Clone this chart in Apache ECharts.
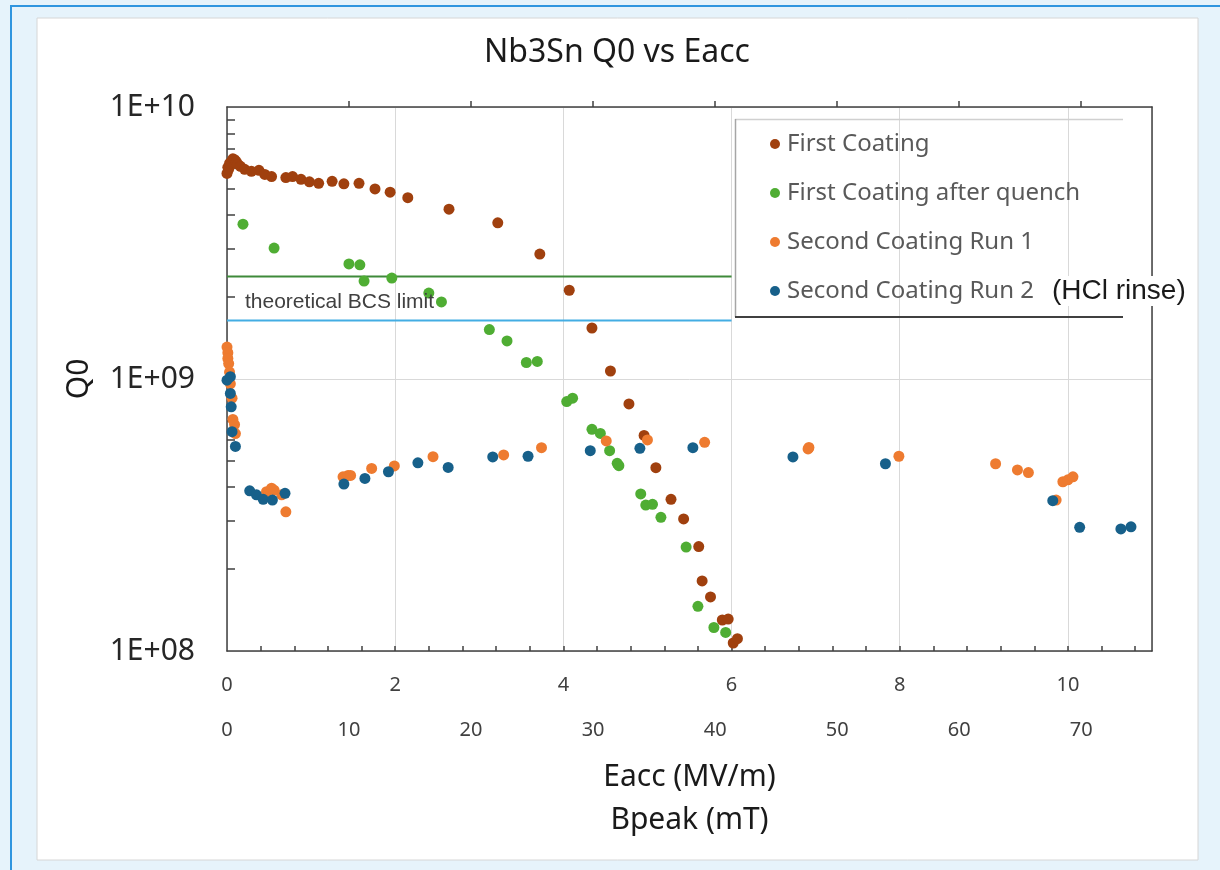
<!DOCTYPE html>
<html>
<head>
<meta charset="utf-8">
<script src="https://cdn.jsdelivr.net/npm/echarts@6/dist/echarts.min.js"></script>
<style>
html,body{margin:0;padding:0;background:#e6f3fb;}
#chart{width:1220px;height:870px;}
</style>
</head>
<body>
<div id="chart"></div>
<script>
// ---- data (Eacc in MV/m, Q0) ----
const firstCoating = [
  [0.00,5.7e9],[0.01,6.0e9],[0.02,5.9e9],[0.03,6.2e9],[0.05,6.3e9],[0.07,6.45e9],[0.09,6.4e9],
  [0.11,6.3e9],[0.13,6.15e9],[0.16,6.05e9],[0.21,5.9e9],[0.29,5.8e9],[0.38,5.85e9],[0.45,5.65e9],
  [0.53,5.55e9],[0.70,5.5e9],[0.78,5.55e9],[0.88,5.42e9],[0.98,5.31e9],[1.09,5.24e9],[1.25,5.33e9],
  [1.39,5.22e9],[1.57,5.24e9],[1.76,5.0e9],[1.94,4.86e9],[2.15,4.64e9],[2.64,4.21e9],[3.22,3.75e9],
  [3.72,2.88e9],[4.07,2.12e9],[4.34,1.54e9],[4.56,1.07e9],[4.78,8.1e8],[4.96,6.2e8],[5.10,4.72e8],
  [5.28,3.61e8],[5.43,3.06e8],[5.61,2.42e8],[5.65,1.81e8],[5.75,1.58e8],[5.89,1.30e8],[5.96,1.31e8],
  [6.02,1.07e8],[6.07,1.11e8]
];
const firstCoatingAfterQuench = [
  [0.19,3.71e9],[0.56,3.03e9],[1.45,2.65e9],[1.58,2.63e9],[1.63,2.29e9],[1.96,2.35e9],[2.40,2.07e9],
  [2.55,1.92e9],[3.12,1.52e9],[3.33,1.38e9],[3.56,1.15e9],[3.69,1.16e9],[4.04,8.26e8],[4.11,8.5e8],
  [4.34,6.53e8],[4.44,6.31e8],[4.55,5.45e8],[4.64,4.9e8],[4.66,4.8e8],[4.92,3.78e8],[4.98,3.44e8],
  [5.06,3.46e8],[5.16,3.10e8],[5.46,2.41e8],[5.60,1.46e8],[5.79,1.22e8],[5.93,1.17e8]
];
const secondCoatingRun1 = [
  [0.00,1.31e9],[0.01,1.25e9],[0.01,1.19e9],[0.02,1.14e9],[0.03,1.06e9],[0.04,9.6e8],[0.06,8.5e8],
  [0.07,7.1e8],[0.09,6.8e8],[0.10,6.3e8],[0.47,3.85e8],[0.53,3.97e8],[0.56,3.9e8],[0.65,3.75e8],
  [0.70,3.25e8],[1.38,4.37e8],[1.44,4.42e8],[1.47,4.42e8],[1.72,4.69e8],[1.99,4.79e8],[2.45,5.18e8],
  [3.29,5.26e8],[3.74,5.59e8],[4.51,5.92e8],[5.00,5.97e8],[5.68,5.85e8],[6.91,5.53e8],[6.92,5.6e8],
  [7.99,5.2e8],[9.14,4.88e8],[9.40,4.63e8],[9.53,4.53e8],[9.86,3.59e8],[9.94,4.19e8],[10.00,4.26e8],
  [10.06,4.37e8]
];
const secondCoatingRun2 = [
  [0.00,9.9e8],[0.04,1.02e9],[0.04,8.85e8],[0.05,7.9e8],[0.06,6.4e8],[0.10,5.65e8],[0.27,3.88e8],
  [0.35,3.75e8],[0.43,3.61e8],[0.54,3.59e8],[0.69,3.8e8],[1.39,4.11e8],[1.64,4.31e8],[1.92,4.56e8],
  [2.27,4.92e8],[2.63,4.73e8],[3.16,5.17e8],[3.58,5.2e8],[4.32,5.45e8],[4.91,5.56e8],[5.54,5.59e8],
  [6.73,5.17e8],[7.83,4.88e8],[9.82,3.57e8],[10.14,2.85e8],[10.63,2.81e8],[10.75,2.86e8]
];
// theoretical BCS limit lines
const bcsLineE = [0, 6];
const bcsLimitGreen = 2.38e9;
const bcsLimitBlue = 1.64e9;
// axis ranges and ticks
const eaccMax = 11;
const bpeakMax = 75.8;
const eaccMinorTicks = [0.4,0.8,1.2,1.6,2,2.4,2.8,3.2,3.6,4,4.4,4.8,5.2,5.6,6,6.4,6.8,7.2,7.6,8,8.4,8.8,9.2,9.6,10,10.4,10.8];
const bpeakTopTicks = [10,20,30,40,50,60,70];
const qMinorMultipliers = [2,3,4,5,6,7,8,9];
const qDecades = [8, 9];
const seriesNames = ['First Coating','First Coating after quench','Second Coating Run 1','Second Coating Run 2'];
const seriesColors = ['#a0400e','#4fad33','#ee7b30','#17608a'];

const qMinorLogTicks = [];
qDecades.forEach(d => qMinorMultipliers.forEach(m => qMinorLogTicks.push(d + Math.log10(m))));

const chart = echarts.init(document.getElementById('chart'), null, {renderer: 'canvas'});
const axisColor = '#404040';
const font = 'Noto Sans';

const scatterData = [firstCoating, firstCoatingAfterQuench, secondCoatingRun1, secondCoatingRun2];

const option = {
  animation: false,
  backgroundColor: '#e6f3fb',
  title: {
    text: 'Nb3Sn Q0 vs Eacc', left: 617, top: 37, textAlign: 'center', padding: 0,
    textStyle: {fontFamily: font, fontSize: 32, fontWeight: 'normal', color: '#1a1a1a'}
  },
  graphic: [
    {type: 'rect', z: -100, shape: {x: 11, y: 6, width: 1300, height: 900},
     style: {fill: '#e6f3fb', stroke: '#2f95df', lineWidth: 2}},
    {type: 'rect', z: -99, shape: {x: 37, y: 18, width: 1161, height: 842},
     style: {fill: '#ffffff', stroke: '#d6d6d6', lineWidth: 1}},
    // legend frame
    {type: 'line', z: 50, shape: {x1: 735, y1: 119.5, x2: 1123, y2: 119.5}, style: {stroke: '#d0d0d0', lineWidth: 1.5}},
    {type: 'line', z: 50, shape: {x1: 735.5, y1: 119, x2: 735.5, y2: 317}, style: {stroke: '#a6a6a6', lineWidth: 1.5}},
    {type: 'line', z: 50, shape: {x1: 735, y1: 317, x2: 1123, y2: 317}, style: {stroke: '#404040', lineWidth: 2}},
    {type: 'text', z: 50, x: 245, y: 302,
     style: {text: 'theoretical BCS limit', font: '21px "Liberation Sans", Arial, sans-serif', fill: '#404040', textVerticalAlign: 'middle'}}
  ],
  legend: {
    data: seriesNames,
    orient: 'vertical', left: 765, top: 124,
    itemWidth: 10, itemHeight: 10, itemGap: 19, icon: 'circle',
    selectedMode: false,
    formatter: function (name) {
      return name === 'Second Coating Run 2' ? name + '{g| }{h|(HCl rinse)}' : name;
    },
    textStyle: {
      fontFamily: font, fontSize: 24, color: '#595959', lineHeight: 30, padding: [0, 0, 0, 2],
      rich: {
        g: {width: 14, fontSize: 24, lineHeight: 30},
        h: {fontFamily: '"Liberation Sans", Arial, sans-serif', fontSize: 28, color: '#1a1a1a',
            backgroundColor: '#ffffff', padding: [1, 6, 1, 4], lineHeight: 30}
      }
    }
  },
  grid: {left: 227, top: 107, right: 68, bottom: 219, containLabel: false, outerBoundsMode: 'none'},
  xAxis: [
    {
      type: 'value', min: 0, max: eaccMax, interval: 2, position: 'bottom',
      axisLine: {show: true, onZero: false, lineStyle: {color: axisColor, width: 1.5}},
      axisTick: {show: false},
      axisLabel: {fontFamily: font, fontSize: 20, color: '#404040', margin: 24, showMaxLabel: false},
      splitLine: {show: true, lineStyle: {color: '#d9d9d9', width: 1}},
      name: 'Eacc (MV/m)', nameLocation: 'middle', nameGap: 111,
      nameTextStyle: {fontFamily: font, fontSize: 30, color: '#1a1a1a'}
    },
    {
      type: 'value', min: 0, max: bpeakMax, interval: 10, position: 'bottom', offset: 45,
      axisLine: {show: false}, axisTick: {show: false},
      axisLabel: {fontFamily: font, fontSize: 20, color: '#404040', margin: 24, showMaxLabel: false},
      splitLine: {show: false},
      name: 'Bpeak (mT)', nameLocation: 'middle', nameGap: 109,
      nameTextStyle: {fontFamily: font, fontSize: 30, color: '#1a1a1a'}
    },
    {
      type: 'value', min: 0, max: bpeakMax, position: 'top',
      axisLine: {show: true, onZero: false, lineStyle: {color: axisColor, width: 1.5}},
      axisTick: {show: true, inside: false, length: 6, customValues: bpeakTopTicks, lineStyle: {color: axisColor, width: 1.5}},
      axisLabel: {show: false}, splitLine: {show: false}
    },
    {
      type: 'value', min: 0, max: eaccMax, position: 'bottom',
      axisLine: {show: false},
      axisTick: {show: true, inside: true, length: 5, customValues: eaccMinorTicks, lineStyle: {color: axisColor, width: 1.5}},
      axisLabel: {show: false}, splitLine: {show: false}
    }
  ],
  yAxis: [
    {
      type: 'log', logBase: 10, min: 1e8, max: 1e10, position: 'left',
      axisLine: {show: true, onZero: false, lineStyle: {color: axisColor, width: 1.5}},
      axisTick: {show: false},
      axisLabel: {fontFamily: font, fontSize: 30, color: '#262626', margin: 32,
        formatter: function (v) { const e = Math.round(Math.log10(v)); return '1E+' + (e < 10 ? '0' + e : e); }},
      splitLine: {show: true, lineStyle: {color: '#d9d9d9', width: 1}},
      name: 'Q0', nameLocation: 'middle', nameGap: 133,
      nameTextStyle: {fontFamily: font, fontSize: 30, color: '#1a1a1a'}
    },
    {
      type: 'value', min: 8, max: 10, position: 'left',
      axisLine: {show: false},
      axisTick: {show: true, inside: true, length: 8, customValues: qMinorLogTicks, lineStyle: {color: axisColor, width: 1.5}},
      axisLabel: {show: false}, splitLine: {show: false}
    },
    {
      type: 'value', min: 0, max: 1, position: 'right',
      axisLine: {show: true, onZero: false, lineStyle: {color: axisColor, width: 1.5}},
      axisTick: {show: false}, axisLabel: {show: false}, splitLine: {show: false}
    }
  ],
  series: [
    {
      name: 'BCS limit (upper)', type: 'line', xAxisIndex: 0, yAxisIndex: 0,
      data: bcsLineE.map(e => [e, bcsLimitGreen]), symbol: 'none', silent: true,
      lineStyle: {color: '#3f8a3a', width: 2}, z: 1
    },
    {
      name: 'BCS limit (lower)', type: 'line', xAxisIndex: 0, yAxisIndex: 0,
      data: bcsLineE.map(e => [e, bcsLimitBlue]), symbol: 'none', silent: true,
      lineStyle: {color: '#43ade3', width: 2}, z: 1
    }
  ].concat(seriesNames.map((n, i) => ({
    name: n, type: 'scatter', xAxisIndex: 0, yAxisIndex: 0,
    data: scatterData[i], symbol: 'circle', symbolSize: 11,
    itemStyle: {color: seriesColors[i], opacity: 1}, z: 3 + i
  })))
};
chart.setOption(option);
</script>
</body>
</html>
